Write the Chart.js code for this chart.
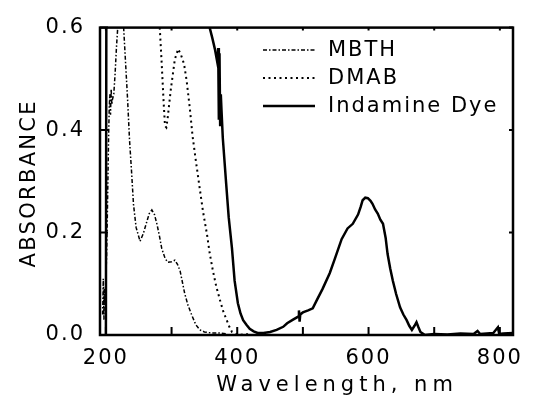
<!DOCTYPE html>
<html lang="en">
<head>
    <meta charset="UTF-8">
    <title>Absorbance spectra</title>
    <script src="https://cdn.jsdelivr.net/npm/chart.js"></script>
    <style>
        body { margin: 0; background: #fff; }
        .chartBox { width: 534px; height: 409px; }
    </style>
</head>
<body>
<div class="chartBox">
    <canvas id="spectrum"></canvas>
</div>
<script>
    // wavelengths (nm) and absorbance for each spectrum
    let mbthWl = [195, 196, 197, 198, 199, 200, 201, 202, 203, 204, 205, 206, 207, 208, 209, 210, 212, 214, 216, 218,
        220, 222, 224, 226, 227, 230, 233, 236, 239, 242, 246, 252, 257, 262, 266, 270, 274, 278, 282, 285,
        290, 294, 300, 305, 309, 313, 317, 320, 325, 331, 337, 343, 350, 360, 372, 384];
    let mbthAbs = [0.04, 0.11, 0.03, 0.09, 0.06, 0.12, 0.15, 0.22, 0.3, 0.38, 0.44, 0.47, 0.43, 0.48, 0.45, 0.46, 0.47, 0.51, 0.56, 0.6,
        0.63, 0.62, 0.61, 0.62, 0.6, 0.53, 0.46, 0.38, 0.32, 0.255, 0.21, 0.183, 0.198, 0.22, 0.237, 0.244, 0.235, 0.215, 0.19, 0.169,
        0.15, 0.142, 0.143, 0.146, 0.138, 0.125, 0.1, 0.081, 0.058, 0.038, 0.02, 0.01, 0.006, 0.004, 0.004, 0.002];

    let dmabWl = [270, 278, 282, 285, 288, 290, 292, 294, 299, 305, 310, 314, 319, 323, 328, 332, 337, 343, 348, 354,
        358, 363, 368, 374, 379, 384, 388, 392, 397, 401, 420];
    let dmabAbs = [0.9, 0.75, 0.6, 0.529, 0.452, 0.408, 0.405, 0.423, 0.481, 0.538, 0.558, 0.548, 0.529, 0.496, 0.44, 0.388, 0.34, 0.285, 0.24, 0.196,
        0.16, 0.125, 0.095, 0.067, 0.045, 0.029, 0.016, 0.006, 0.003, 0, 0.002];

    let dyeWl = [200, 201, 350, 355, 358, 362, 366, 370, 371, 372, 373, 374, 375, 376, 378, 383, 387, 392, 396, 401,
        405, 409, 414, 419, 425, 431, 440, 450, 460, 470, 476, 485, 493, 494, 495, 496, 500, 508, 515, 522,
        530, 541, 549, 559, 568, 576, 584, 588, 591, 595, 599, 603, 606, 610, 614, 618, 622, 626, 629, 633,
        637, 642, 648, 653, 658, 662, 666, 670, 673, 676, 679, 686, 700, 720, 740, 760, 766, 770, 790, 797,
        799, 805, 820];
    let dyeAbs = [0, 0.95, 0.95, 0.68, 0.6, 0.58, 0.558, 0.53, 0.56, 0.42, 0.55, 0.41, 0.47, 0.44, 0.385, 0.298, 0.23, 0.169, 0.106, 0.062,
        0.042, 0.029, 0.02, 0.012, 0.007, 0.004, 0.004, 0.006, 0.01, 0.016, 0.023, 0.03, 0.036, 0.048, 0.026, 0.04, 0.044, 0.048, 0.052, 0.07,
        0.09, 0.121, 0.15, 0.187, 0.208, 0.217, 0.235, 0.25, 0.263, 0.268, 0.267, 0.262, 0.256, 0.245, 0.237, 0.225, 0.217, 0.19, 0.158, 0.13,
        0.106, 0.08, 0.054, 0.04, 0.029, 0.018, 0.01, 0.018, 0.025, 0.015, 0.006, 0, 0.002, 0.001, 0.003, 0.002, 0.008, 0.002, 0.004, 0.015,
        0.002, 0.003, 0.004];

    let seriesNames = ['MBTH', 'DMAB', 'Indamine Dye'];
    let xTicks = [200, 400, 600, 800];
    let xMinor = [300, 500, 700];
    let yTicks = [0, 0.2, 0.4, 0.6];

    function toPoints(xs, ys) {
        return xs.map(function(x, i) { return { x: x, y: ys[i] }; });
    }

    Chart.defaults.font.family = 'DejaVu Sans';
    Chart.defaults.font.size = 21;
    Chart.defaults.color = '#000';

    // frame, inward tick marks, axis titles and the inset legend
    let decor = {
        id: 'decor',
        beforeDraw: function(chart) {
            chart.ctx.letterSpacing = '2px';
        },
        afterDatasetsDraw: function(chart) {
            let ctx = chart.ctx;
            let a = chart.chartArea;
            let xs = chart.scales.x;
            let ys = chart.scales.y;
            ctx.save();
            ctx.strokeStyle = '#000';
            ctx.setLineDash([]);
            ctx.lineWidth = 2.5;
            ctx.strokeRect(a.left, a.top, a.right - a.left, a.bottom - a.top);

            ctx.lineWidth = 2;
            ctx.beginPath();
            xTicks.concat(xMinor).forEach(function(v) {
                let px = xs.getPixelForValue(v);
                ctx.moveTo(px, a.bottom);
                ctx.lineTo(px, a.bottom - 8);
                ctx.moveTo(px, a.top);
                ctx.lineTo(px, a.top + 3);
            });
            yTicks.forEach(function(v) {
                let py = ys.getPixelForValue(v);
                ctx.moveTo(a.left, py);
                ctx.lineTo(a.left + 8, py);
                ctx.moveTo(a.right, py);
                ctx.lineTo(a.right - 4, py);
            });
            ctx.stroke();
            ctx.restore();
        },
        afterDraw: function(chart) {
            let ctx = chart.ctx;
            let a = chart.chartArea;
            ctx.save();
            ctx.fillStyle = '#000';
            ctx.font = '21px "DejaVu Sans"';
            ctx.textBaseline = 'middle';

            // y title
            ctx.letterSpacing = '2.3px';
            ctx.save();
            ctx.translate(30, (a.top + a.bottom) / 2 + 2);
            ctx.rotate(-Math.PI / 2);
            ctx.textAlign = 'center';
            ctx.fillText('ABSORBANCE', 0, 0);
            ctx.restore();

            // x title
            ctx.letterSpacing = '5px';
            ctx.textAlign = 'center';
            ctx.fillText('Wavelength, nm', 337, 386);

            // legend
            ctx.letterSpacing = '2px';
            ctx.textAlign = 'left';
            let ly = [50, 78, 106];
            chart.data.datasets.forEach(function(ds, i) {
                ctx.save();
                ctx.strokeStyle = ds.borderColor;
                ctx.lineWidth = ds.borderWidth;
                ctx.setLineDash(ds.borderDash || []);
                ctx.beginPath();
                ctx.moveTo(263, ly[i]);
                ctx.lineTo(315, ly[i]);
                ctx.stroke();
                ctx.restore();
                ctx.fillText(ds.label, 328, ly[i] + 1);
            });
            ctx.restore();
        }
    };

    new Chart(document.getElementById('spectrum'), {
        type: 'scatter',
        data: {
            datasets: [
                {
                    label: seriesNames[0],
                    data: toPoints(mbthWl, mbthAbs),
                    borderColor: '#000',
                    borderWidth: 1.5,
                    borderDash: [4, 2, 1.5, 2]
                },
                {
                    label: seriesNames[1],
                    data: toPoints(dmabWl, dmabAbs),
                    borderColor: '#000',
                    borderWidth: 2,
                    borderDash: [2, 3.5]
                },
                {
                    label: seriesNames[2],
                    data: toPoints(dyeWl, dyeAbs),
                    borderColor: '#000',
                    borderWidth: 2.5
                }
            ]
        },
        options: {
            responsive: true,
            maintainAspectRatio: false,
            animation: false,
            showLine: true,
            elements: {
                point: { radius: 0 },
                line: { tension: 0, fill: false }
            },
            layout: {
                padding: { left: 0, top: 22, right: 21, bottom: 0 }
            },
            plugins: {
                legend: { display: false },
                tooltip: { enabled: false }
            },
            scales: {
                x: {
                    type: 'linear',
                    min: 191,
                    max: 820,
                    grid: { display: false, drawTicks: false },
                    border: { display: false },
                    ticks: { padding: 11, maxRotation: 0 },
                    afterBuildTicks: function(scale) {
                        scale.ticks = xTicks.map(function(v) { return { value: v }; });
                    },
                    afterFit: function(scale) {
                        scale.height = 74;
                    }
                },
                y: {
                    min: 0,
                    max: 0.6,
                    grid: { display: false, drawTicks: false },
                    border: { display: false },
                    ticks: {
                        padding: 15,
                        callback: function(v) { return v.toFixed(1); }
                    },
                    afterBuildTicks: function(scale) {
                        scale.ticks = yTicks.map(function(v) { return { value: v }; });
                    },
                    afterFit: function(scale) {
                        scale.width = 100;
                    }
                }
            }
        },
        plugins: [decor]
    });
</script>
</body>
</html>
